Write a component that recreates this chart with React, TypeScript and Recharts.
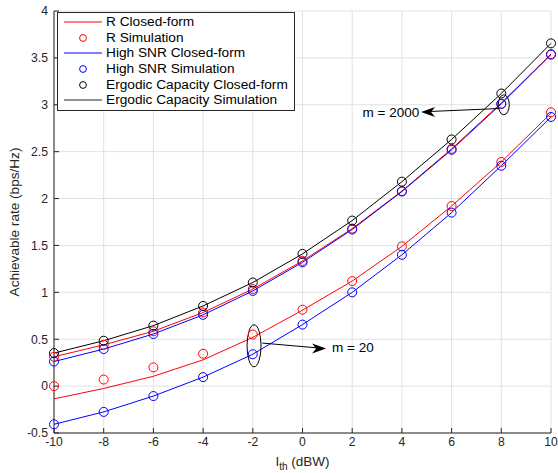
import React from "react";
import {
  ComposedChart,
  Line,
  XAxis,
  YAxis,
  CartesianGrid,
  Legend,
  ReferenceDot,
  ReferenceLine,
  Label,
} from "recharts";

// interference threshold I_th (dBW)
const ith = [-10, -8, -6, -4, -2, 0, 2, 4, 6, 8, 10];
const xTicks = [-10, -8, -6, -4, -2, 0, 2, 4, 6, 8, 10];
const yTicks = [-0.5, 0, 0.5, 1, 1.5, 2, 2.5, 3, 3.5, 4];

// m = 2000
const rClosed2000 = [0.313, 0.44, 0.585, 0.785, 1.035, 1.335, 1.68, 2.08, 2.53, 3.02, 3.54];
const rSim2000 = [0.313, 0.44, 0.585, 0.785, 1.035, 1.335, 1.68, 2.08, 2.53, 3.01, 3.54];
const hsnrClosed2000 = [0.262, 0.395, 0.556, 0.76, 1.015, 1.32, 1.67, 2.075, 2.52, 3.01, 3.535];
const hsnrSim2000 = [0.262, 0.395, 0.556, 0.76, 1.015, 1.32, 1.67, 2.075, 2.52, 3.01, 3.535];
const ergClosed2000 = [0.352, 0.484, 0.645, 0.855, 1.105, 1.41, 1.765, 2.18, 2.63, 3.12, 3.655];
const ergSim2000 = [0.352, 0.484, 0.645, 0.855, 1.105, 1.41, 1.765, 2.18, 2.63, 3.12, 3.655];

// m = 20
const rClosed20 = [-0.136, -0.025, 0.105, 0.28, 0.52, 0.81, 1.12, 1.49, 1.92, 2.39, 2.91];
const rSim20 = [0.0, 0.07, 0.2, 0.345, 0.55, 0.815, 1.12, 1.49, 1.92, 2.39, 2.92];
const hsnrClosed20 = [-0.407, -0.275, -0.106, 0.096, 0.34, 0.656, 1.0, 1.4, 1.85, 2.35, 2.87];
const hsnrSim20 = [-0.407, -0.275, -0.106, 0.096, 0.34, 0.656, 1.0, 1.4, 1.85, 2.35, 2.87];

const legendLabels = [
  "R Closed-form",
  "R Simulation",
  "High SNR Closed-form",
  "High SNR Simulation",
  "Ergodic Capacity Closed-form",
  "Ergodic Capacity Simulation",
];

const data = ith.map((x, i) => ({
  x,
  rc2000: rClosed2000[i],
  rs2000: rSim2000[i],
  hc2000: hsnrClosed2000[i],
  hs2000: hsnrSim2000[i],
  ec2000: ergClosed2000[i],
  es2000: ergSim2000[i],
  rc20: rClosed20[i],
  rs20: rSim20[i],
  hc20: hsnrClosed20[i],
  hs20: hsnrSim20[i],
}));

const FONT = "'Liberation Sans', Arial, Helvetica, sans-serif";
const AXIS = "#262626";

const circle = (color: string) => ({
  r: 4.5,
  stroke: color,
  strokeWidth: 1,
  fill: "none",
});

const legendMarks = [
  { color: "#ff0000", kind: "line" },
  { color: "#ff0000", kind: "circle" },
  { color: "#0000ff", kind: "line" },
  { color: "#0000ff", kind: "circle" },
  { color: "#000000", kind: "circle" },
  { color: "#262626", kind: "line" },
];

function LegendBox() {
  return (
    <div
      style={{
        border: `1px solid ${AXIS}`,
        background: "#fff",
        padding: "1px 6px 2px 6px",
        fontFamily: FONT,
        fontSize: 13.7,
        color: "#000",
        lineHeight: "15.7px",
        whiteSpace: "nowrap",
      }}
    >
      {legendLabels.map((label, i) => (
        <div key={label} style={{ display: "flex", alignItems: "center", height: 15.7 }}>
          <svg width={38} height={15.7} style={{ marginRight: 4, flex: "none" }}>
            {legendMarks[i].kind === "line" ? (
              <line x1={0} x2={38} y1={8} y2={8} stroke={legendMarks[i].color} strokeWidth={1} />
            ) : (
              <circle cx={19} cy={8} r={3.4} stroke={legendMarks[i].color} fill="none" />
            )}
          </svg>
          <span>{label}</span>
        </div>
      ))}
    </div>
  );
}

const renderXLabel = (props: any) => {
  const vb = props.viewBox;
  const cx = vb.x + vb.width / 2;
  return (
    <text x={cx} y={vb.y + 33} textAnchor="middle" fontSize={13.5} fill={AXIS} fontFamily={FONT}>
      I
      <tspan fontSize={10} dy={4}>
        th
      </tspan>
      <tspan dy={-4}> (dBW)</tspan>
    </text>
  );
};

const renderYLabel = (props: any) => {
  const vb = props.viewBox;
  const cy = vb.y + vb.height / 2;
  const x = 19;
  return (
    <text
      x={x}
      y={cy}
      transform={`rotate(-90, ${x}, ${cy})`}
      textAnchor="middle"
      fontSize={13.6}
      fill={AXIS}
      fontFamily={FONT}
    >
      Achievable rate (bps/Hz)
    </text>
  );
};

const tickStyle = { fill: AXIS, fontSize: 12.2, fontFamily: FONT };

export default function App() {
  return (
    <div style={{ position: "absolute", left: 0, top: 0, background: "#fff" }}>
      <ComposedChart
        width={558}
        height={473}
        data={data}
        margin={{ top: 11, right: 7, left: 14, bottom: 0 }}
      >
        <CartesianGrid stroke="#e1e1e1" strokeWidth={1} />
        <XAxis
          dataKey="x"
          type="number"
          domain={[-10, 10]}
          ticks={xTicks}
          height={40}
          stroke={AXIS}
          tickSize={-5}
          tickMargin={9}
          tick={tickStyle}
          interval={0}
        >
          <Label content={renderXLabel} />
        </XAxis>
        <YAxis
          type="number"
          domain={[-0.5, 4]}
          ticks={yTicks}
          width={40}
          stroke={AXIS}
          tickSize={-5}
          tickMargin={11}
          tick={tickStyle}
          interval={0}
        >
          <Label content={renderYLabel} />
        </YAxis>
        <XAxis
          xAxisId="top"
          orientation="top"
          dataKey="x"
          type="number"
          domain={[-10, 10]}
          ticks={xTicks}
          height={0}
          stroke={AXIS}
          tickSize={-5}
          tick={false}
        />
        <YAxis
          yAxisId="right"
          orientation="right"
          type="number"
          domain={[-0.5, 4]}
          ticks={yTicks}
          width={0}
          stroke={AXIS}
          tickSize={-5}
          tick={false}
        />
        <Legend
          layout="vertical"
          align="center"
          verticalAlign="middle"
          wrapperStyle={{ top: 12, left: 57, width: "auto" }}
          content={() => <LegendBox />}
        />

        {/* R closed-form / simulation */}
        <Line dataKey="rc2000" stroke="#ff0000" strokeWidth={1} dot={false} activeDot={false} isAnimationActive={false} />
        <Line dataKey="rc20" stroke="#ff0000" strokeWidth={1} dot={false} activeDot={false} isAnimationActive={false} />
        <Line dataKey="rs2000" stroke="none" dot={circle("#ff0000")} activeDot={false} isAnimationActive={false} />
        <Line dataKey="rs20" stroke="none" dot={circle("#ff0000")} activeDot={false} isAnimationActive={false} />

        {/* High SNR closed-form / simulation */}
        <Line dataKey="hc2000" stroke="#0000ff" strokeWidth={1} dot={false} activeDot={false} isAnimationActive={false} />
        <Line dataKey="hc20" stroke="#0000ff" strokeWidth={1} dot={false} activeDot={false} isAnimationActive={false} />
        <Line dataKey="hs2000" stroke="none" dot={circle("#0000ff")} activeDot={false} isAnimationActive={false} />
        <Line dataKey="hs20" stroke="none" dot={circle("#0000ff")} activeDot={false} isAnimationActive={false} />

        {/* Ergodic capacity */}
        <Line dataKey="ec2000" stroke="none" dot={circle("#000000")} activeDot={false} isAnimationActive={false} />
        <Line dataKey="es2000" stroke="#000000" strokeWidth={1} dot={false} activeDot={false} isAnimationActive={false} />

        {/* m = 2000 annotation */}
        <ReferenceLine
          segment={[
            { x: 7.92, y: 2.96 },
            { x: 4.9, y: 2.926 },
          ]}
          stroke="#000"
          strokeWidth={1}
        />
        <ReferenceDot
          x={8.1}
          y={3.0}
          isFront
          shape={(p: any) => (
            <ellipse cx={p.cx} cy={p.cy} rx={5.5} ry={10} fill="none" stroke="#000" strokeWidth={1} />
          )}
        />
        <ReferenceDot
          x={4.77}
          y={2.924}
          isFront
          shape={(p: any) => (
            <path
              d={`M${p.cx},${p.cy} L${p.cx + 14},${p.cy - 5} L${p.cx + 10},${p.cy} L${p.cx + 14},${p.cy + 5} Z`}
              fill="#000"
            />
          )}
        />
        <ReferenceDot
          x={4.7}
          y={2.917}
          isFront
          shape={(p: any) => (
            <text x={p.cx} y={p.cy} dy="0.35em" textAnchor="end" fontSize={13.5} fontFamily={FONT} fill="#000">
              m = 2000
            </text>
          )}
        />

        {/* m = 20 annotation */}
        <ReferenceLine
          segment={[
            { x: -1.62, y: 0.459 },
            { x: 0.8, y: 0.403 },
          ]}
          stroke="#000"
          strokeWidth={1}
        />
        <ReferenceDot
          x={-1.95}
          y={0.43}
          isFront
          shape={(p: any) => (
            <ellipse cx={p.cx} cy={p.cy} rx={7} ry={21} fill="none" stroke="#000" strokeWidth={1} />
          )}
        />
        <ReferenceDot
          x={0.95}
          y={0.401}
          isFront
          shape={(p: any) => (
            <path
              d={`M${p.cx},${p.cy} L${p.cx - 14},${p.cy - 5} L${p.cx - 10},${p.cy} L${p.cx - 14},${p.cy + 5} Z`}
              fill="#000"
            />
          )}
        />
        <ReferenceDot
          x={1.19}
          y={0.411}
          isFront
          shape={(p: any) => (
            <text x={p.cx} y={p.cy} dy="0.35em" textAnchor="start" fontSize={13.5} fontFamily={FONT} fill="#000">
              m = 20
            </text>
          )}
        />
      </ComposedChart>
    </div>
  );
}
